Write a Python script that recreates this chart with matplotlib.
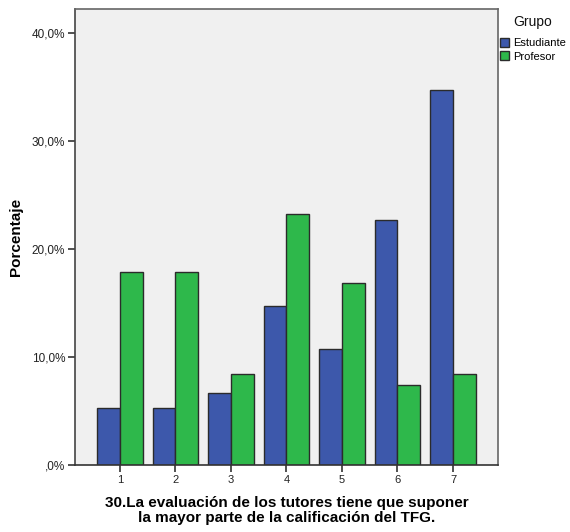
import numpy as np
import matplotlib
matplotlib.use('Agg')
import matplotlib.pyplot as plt
from matplotlib.patches import Patch

plt.rcParams['font.family'] = ['Liberation Sans', 'DejaVu Sans']

categorias = ['1', '2', '3', '4', '5', '6', '7']
estudiante = [5.3, 5.3, 6.7, 14.7, 10.7, 22.7, 34.7]
profesor = [17.9, 17.9, 8.4, 23.2, 16.8, 7.4, 8.4]
y_ticks = [0, 10, 20, 30, 40]
y_labels = [',0%', '10,0%', '20,0%', '30,0%', '40,0%']

col_est = '#3d58ab'
col_prof = '#2eb84b'
col_borde = '#2b2b2b'

fig = plt.figure(figsize=(5.7, 5.32), dpi=100)
ax = fig.add_axes([0.1316, 0.126, 0.7415, 0.857])
ax.set_facecolor('#f0f0f0')

x = np.arange(1, len(categorias) + 1)
w = 0.41
ax.bar(x - w / 2, estudiante, w, color=col_est, edgecolor=col_borde, linewidth=1, zorder=2)
ax.bar(x + w / 2, profesor, w, color=col_prof, edgecolor=col_borde, linewidth=1, zorder=2)

ax.set_xlim(0.19, 7.805)
ax.set_ylim(0, 42.2)
ax.set_xticks(x)
ax.set_xticklabels(categorias, fontsize=8, color='#222222')
ax.set_yticks(y_ticks)
ax.set_yticklabels(y_labels, fontsize=8.5, color='#222222')
ax.tick_params(axis='both', direction='out', length=5, width=1.2, color='#333333', pad=2)

for s in ax.spines.values():
    s.set_color('#666666')
    s.set_linewidth(1.2)
ax.spines['bottom'].set_color('#333333')
ax.spines['left'].set_color('#444444')

ax.set_ylabel('Porcentaje', fontsize=11, fontweight='bold', labelpad=6)
ax.set_xlabel('30.La evaluación de los tutores tiene que suponer\nla mayor parte de la calificación del TFG.',
              fontsize=11, fontweight='bold', labelpad=8, linespacing=1.15)

# leyenda fuera del eje, a la derecha
fig.text(533 / 570, 1 - 22 / 532, 'Grupo', fontsize=10, ha='center', va='center', color='#111111')
handles = [Patch(facecolor=col_est, edgecolor=col_borde, label='Estudiante'),
           Patch(facecolor=col_prof, edgecolor=col_borde, label='Profesor')]
ax.legend(handles=handles, loc='upper left', bbox_to_anchor=(500 / 570, 1 - 38 / 532),
          bbox_transform=fig.transFigure, frameon=False, fontsize=8, handlelength=0.85,
          handleheight=0.9, handletextpad=0.3, labelspacing=0.25, borderaxespad=0,
          borderpad=0)

fig.savefig('out.png', dpi=100)
